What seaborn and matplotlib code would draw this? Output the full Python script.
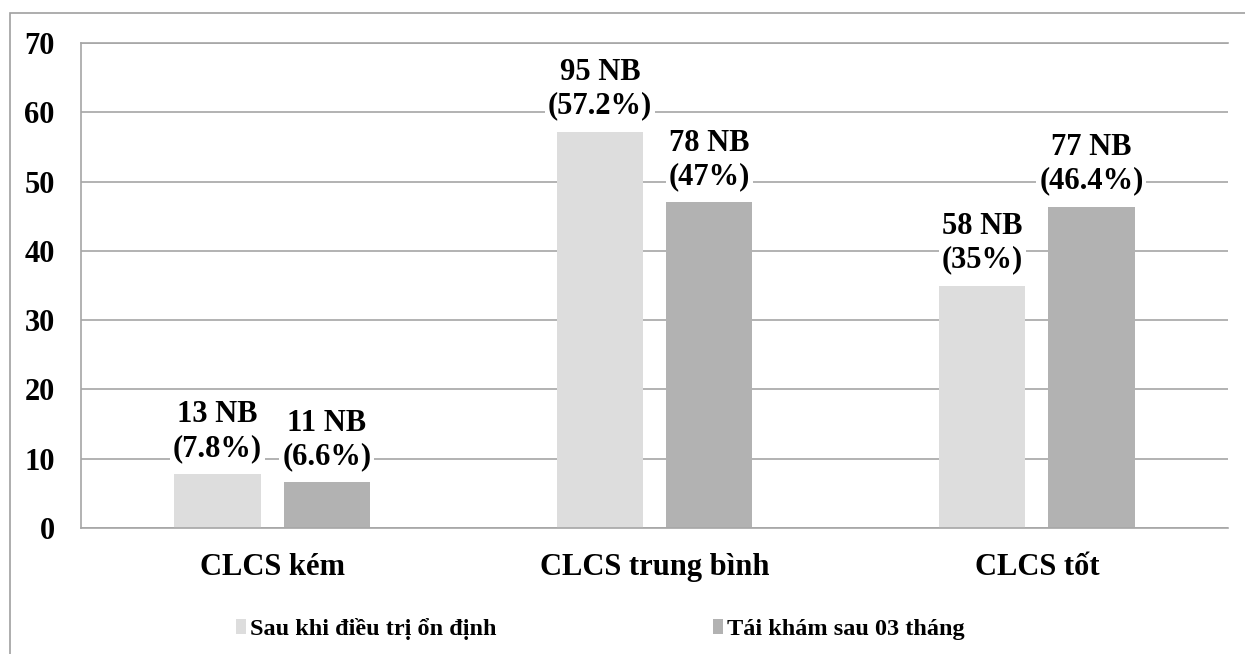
import matplotlib
matplotlib.use("Agg")
import matplotlib.pyplot as plt
import matplotlib.patches as mpatches
import seaborn as sns
import pandas as pd

# Quality-of-life groups and the two measurement times
categories = ["CLCS kém", "CLCS trung bình", "CLCS tốt"]
series = ["Sau khi điều trị ổn định", "Tái khám sau 03 tháng"]
pct_after_treatment = [7.8, 57.2, 35.0]
pct_follow_up = [6.6, 47.0, 46.4]
n_after_treatment = [13, 95, 58]
n_follow_up = [11, 78, 77]
pct_text_after_treatment = ["7.8%", "57.2%", "35%"]
pct_text_follow_up = ["6.6%", "47%", "46.4%"]
y_ticks = [0, 10, 20, 30, 40, 50, 60, 70]

colors = ["#dddddd", "#b2b2b2"]
grid_color = "#a6a6a6"
FS = 22
FS_LEGEND = 17.5

sns.set_style("white")
plt.rcParams["font.family"] = ["Liberation Serif", "DejaVu Serif"]
plt.rcParams["font.weight"] = "bold"
plt.rcParams["text.color"] = "black"
plt.rcParams["xtick.color"] = "black"
plt.rcParams["ytick.color"] = "black"

df = pd.DataFrame({
    "group": categories * 2,
    "series": [series[0]] * 3 + [series[1]] * 3,
    "pct": pct_after_treatment + pct_follow_up,
})

fig = plt.figure(figsize=(12.45, 6.54), dpi=100)
ax = fig.add_axes([81 / 1245, 1 - 528 / 654, (1228 - 81) / 1245, (528 - 43) / 654])

sns.barplot(data=df, x="group", y="pct", hue="series", palette=colors,
            width=0.571, gap=0.21, saturation=1, ax=ax, legend=False,
            linewidth=0, order=categories, hue_order=series)

ax.set_ylim(0, 70)
ax.set_yticks(y_ticks)
ax.set_yticklabels([str(t) for t in y_ticks], fontsize=FS, fontweight="bold",
                   color="black")
ax.tick_params(axis="y", length=0, pad=19, labelcolor="black")
ax.tick_params(axis="x", length=0, pad=18, labelsize=FS, labelcolor="black")
for lbl in ax.get_xticklabels():
    lbl.set_fontweight("bold")
ax.set_xlabel("")
ax.set_ylabel("")

ax.yaxis.grid(True, color=grid_color, linewidth=1.2)
ax.set_axisbelow(True)
for side in ["left", "bottom", "top"]:
    ax.spines[side].set_visible(True)
    ax.spines[side].set_color(grid_color)
    ax.spines[side].set_linewidth(1.2)
ax.spines["right"].set_visible(False)

label_sets = [
    [f"{n} NB\n({p})" for n, p in zip(n_after_treatment, pct_text_after_treatment)],
    [f"{n} NB\n({p})" for n, p in zip(n_follow_up, pct_text_follow_up)],
]
for container, labels in zip(ax.containers, label_sets):
    ax.bar_label(container, labels=labels, padding=8, fontsize=FS,
                 fontweight="bold", linespacing=1.2, color="black",
                 bbox=dict(facecolor="white", edgecolor="none", pad=2))

handles = [mpatches.Patch(facecolor=c, edgecolor="none") for c in colors]
fig.legend(handles, series, loc="center", bbox_to_anchor=(0.482, 1 - 629 / 654),
           ncol=2, frameon=False, handlelength=0.42, handleheight=0.55,
           handletextpad=0.15, columnspacing=8.9,
           prop={"size": FS_LEGEND, "weight": "bold"})

# outer frame around the chart area
frame = mpatches.Rectangle((10 / 1245, -0.2), 1.2, 1.2 - 13 / 654,
                           transform=fig.transFigure, fill=False,
                           edgecolor="#a0a0a0", linewidth=1.2)
fig.patches.append(frame)

fig.savefig("out.png", dpi=100, facecolor="white")
